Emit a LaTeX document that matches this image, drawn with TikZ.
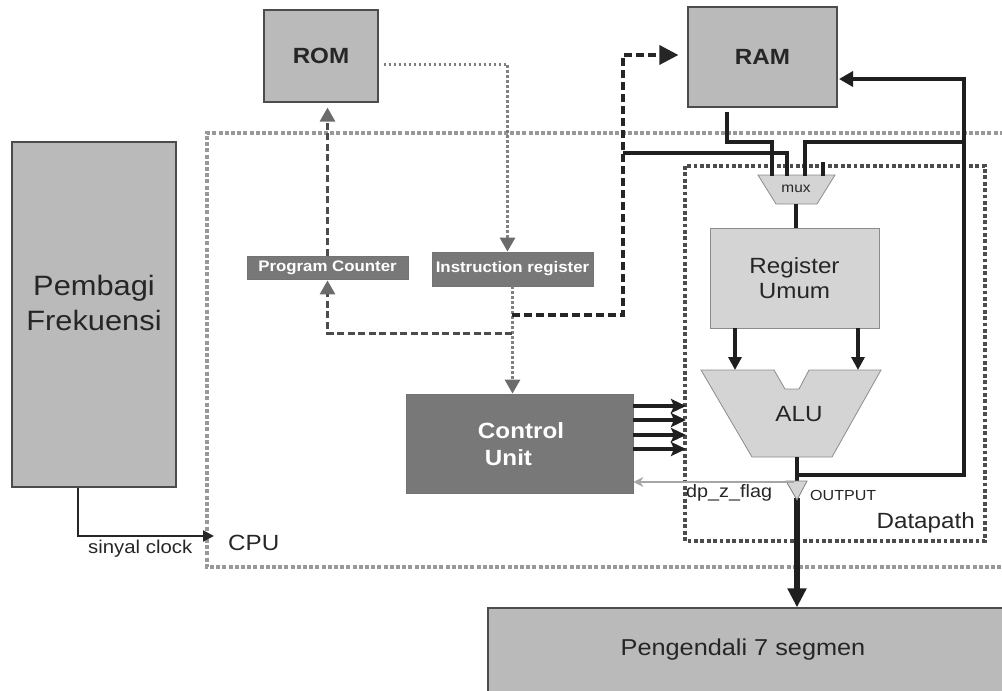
\documentclass[tikz,border=0pt]{standalone}
\usepackage{fontspec}
\setmainfont{Liberation Sans}[FakeStretch=1.1]
\usetikzlibrary{arrows.meta}
\begin{document}
\begin{tikzpicture}[x=1pt,y=-1pt,line join=miter,
  gbox/.style={draw=black!70,line width=1.2pt,fill=black!27,inner sep=0pt},
  dbox/.style={draw=black!55,line width=0.8pt,fill=black!53,inner sep=0pt,text=white},
  lbox/.style={draw=black!45,line width=0.8pt,fill=black!17,inner sep=0pt},
  cpuframe/.style={draw=black!40,line width=4pt,dash pattern=on 4pt off 2.2pt},
  dpframe/.style={draw=black!70,line width=4pt,dash pattern=on 3.8pt off 2.6pt},
  romdot/.style={draw=black!50,line width=3pt,dash pattern=on 2.5pt off 2.5pt},
  pcdash/.style={draw=black!70,line width=3pt,dash pattern=on 7pt off 3.5pt},
  ramdash/.style={draw=black!85,line width=3.5pt,dash pattern=on 8pt off 4pt},
  bus/.style={draw=black!88,line width=4.5pt},
  gtip/.style={-{Triangle[length=14pt,width=15pt,fill=black!58,color=black!58]}},
  btip/.style={-{Triangle[length=13pt,width=13pt]}},
  flag/.style={draw=black!35,line width=2pt,-{Stealth[length=10pt,width=10pt,open]}}
]
\useasboundingbox (0,0) rectangle (1002,691);

% CPU frame and datapath frame
\draw[cpuframe] (1010,133) -- (207,133) -- (207,567) -- (1010,567);
\draw[dpframe] (685,166) rectangle (985,541);

% boxes
\node[gbox,minimum width=164pt,minimum height=345pt] (pf) at (94,314.5) {};
\node[align=center,font=\fontsize{28}{35}\selectfont,text=black!85] (pft) at (94,303) {Pembagi\\Frekuensi};
\node[gbox,minimum width=114pt,minimum height=92pt,font=\bfseries\fontsize{22}{26}\selectfont,text=black!85] (rom) at (321,56) {ROM};
\node[gbox,minimum width=149pt,minimum height=100pt,font=\bfseries\fontsize{22}{26}\selectfont,text=black!85] (ram) at (762.5,57) {RAM};
\node[dbox,minimum width=161pt,minimum height=23pt,font=\bfseries\fontsize{15.3}{18}\selectfont] (pc) at (327.5,267.5) {Program Counter};
\node[dbox,minimum width=161pt,minimum height=34pt,font=\bfseries\fontsize{15.3}{18}\selectfont] (ir) at (512.5,269) {Instruction register};
\node[dbox,minimum width=227pt,minimum height=99pt] (cu) at (519.5,443.5) {};
\node[align=left,font=\bfseries\fontsize{22}{27}\selectfont,text=white,inner sep=0pt] (cut) at (521,444) {Control\\\hspace*{7pt}Unit};
\node[lbox,minimum width=169pt,minimum height=100pt,align=center,font=\fontsize{22}{25}\selectfont,text=black!85] (reg) at (794.5,278) {Register\\Umum};
\node[gbox,minimum width=530pt,minimum height=100pt] (seg) at (753,658) {};
\node[font=\fontsize{23}{27}\selectfont,text=black!85] (segt) at (743,650) {Pengendali 7 segmen};

% labels
\node[anchor=base west,font=\fontsize{22}{26}\selectfont,text=black!85,inner sep=0pt] (cpu) at (228,550) {CPU};
\node[anchor=base west,font=\fontsize{18.5}{22}\selectfont,text=black!85,inner sep=0pt] (clk) at (88,553) {sinyal clock};
\node[anchor=base east,font=\fontsize{22}{26}\selectfont,text=black!85,inner sep=0pt] (dpl) at (975,528) {Datapath};
\node[anchor=base west,font=\fontsize{18}{22}\selectfont,text=black!85,inner sep=0pt] (zfl) at (686,497) {dp\_z\_flag};
\node[anchor=base west,font=\fontsize{14.6}{18}\selectfont,text=black!85,inner sep=0pt] (outl) at (810,500) {OUTPUT};

% mux and ALU shapes
\draw[lbox] (758,175) -- (835,175) -- (817,204) -- (776,204) -- cycle;
\node[font=\fontsize{14}{16}\selectfont,text=black!85] (mux) at (796,189) {mux};
\draw[lbox] (701,370) -- (774,370) -- (785,389) -- (799,389) -- (809,370) -- (881,370) -- (832,457) -- (752,457) -- cycle;
\node[font=\fontsize{22}{26}\selectfont,text=black!85] (alu) at (799,414) {ALU};

% coordinates
\coordinate (clkx) at (78,536);
\coordinate (jram) at (512,315);
\coordinate (jpc) at (512,333);
\coordinate (rx) at (623,315);
\coordinate (bx) at (623,153);
\coordinate (m1) at (772,176);
\coordinate (m2) at (787,176);
\coordinate (m3) at (805,176);
\coordinate (m4) at (823,176);
\coordinate (muxo) at (796,204);
\coordinate (a1) at (735,370);
\coordinate (a2) at (858,370);
\coordinate (aluo) at (797,457);
\coordinate (fb) at (964,475);
\coordinate (tri) at (797,482);
\coordinate (trib) at (797,498);
\coordinate (zf) at (794,482);
\coordinate (ramo) at (727,112);
\coordinate (ramw) at (839,79);

% clock
\draw[draw=black!85,line width=2pt,-{Triangle[length=11pt,width=11pt]}] (pf.south -| clkx) -- (clkx) -- (214,536);

% control flow
\draw[romdot,gtip] ([xshift=5pt,yshift=-8pt]rom.east) -| ([xshift=-5pt]ir.north);
\draw[romdot,gtip] (ir.south) -- (ir.south |- cu.north);
\draw[pcdash,gtip,shorten >=5pt] (pc.north) -- (pc.north |- rom.south);
\draw[pcdash,gtip,shorten >=1pt] (jpc) -| (pc.south);
\draw[ramdash,-{Triangle[length=19pt,width=19pt]}] (jram) -- (rx) |- ([xshift=-9pt,yshift=2pt]ram.west);

% buses
\draw[bus] (ramo) |- (772,142) -- (m1);
\draw[bus] (bx) -| (m2);
\draw[bus] (fb) -- (964,142) -| (m3);
\draw[bus] (823,162) -- (m4);
\draw[bus] (muxo) -- (muxo |- reg.north);
\draw[bus,btip] (a1 |- reg.south) -- (a1);
\draw[bus,btip] (a2 |- reg.south) -- (a2);
\draw[bus,-{Triangle[length=14pt,width=15pt]}] (aluo) -- (797,475) -- (fb) -- (964,79) -- (ramw);
\draw[bus] (797,475) -- (tri);
\draw[draw=black!88,line width=6.5pt,-{Triangle[length=19pt,width=18pt]}] (trib) -- (trib |- seg.north);
\draw[draw=black!50,line width=0.8pt,fill=black!17] (786,481) -- (807,481) -- (797,500) -- cycle;

% control unit outputs
\foreach \i/\y in {1/406,2/420,3/435,4/449}{
  \coordinate (c\i) at (686,\y);
  \draw[draw=black!88,line width=3.2pt,-{Stealth[length=15pt,width=14pt,inset=3pt]}] (c\i -| cu.east) -- (c\i);
}
\draw[flag] (zf) -- (zf -| cu.east);
\end{tikzpicture}
\end{document}
